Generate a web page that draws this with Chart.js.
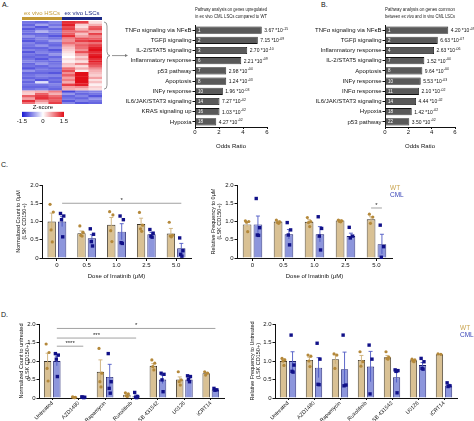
<!DOCTYPE html>
<html>
<head>
<meta charset="utf-8">
<script src="https://cdn.jsdelivr.net/npm/chart.js@4.4.1/dist/chart.umd.min.js"></script>
<style>
body { margin: 0; background: #fff; width: 474px; height: 421px; position: relative; overflow: hidden; font-family: "Liberation Sans", Arial, sans-serif; }
canvas { position: absolute; }
.lbl { position: absolute; font-size: 7px; color: #111; }
</style>
</head>
<body>
<div class="lbl" style="left:2px;top:1px">A.</div>
<div class="lbl" style="left:321px;top:1px">B.</div>
<div class="lbl" style="left:1px;top:161px">C.</div>
<div class="lbl" style="left:1px;top:311px">D.</div>

<canvas id="heat" width="130" height="125" style="left:0;top:0"></canvas>
<canvas id="zbar" width="62" height="24" style="left:12px;top:103px"></canvas>
<canvas id="pathA" width="215" height="150" style="left:100px;top:0"></canvas>
<canvas id="pathB" width="184" height="150" style="left:290px;top:0"></canvas>
<canvas id="cCount" width="200" height="105" style="left:0;top:175px"></canvas>
<canvas id="cCountPts" width="200" height="105" style="left:0;top:175px"></canvas>
<canvas id="cFreq" width="240" height="105" style="left:205px;top:175px"></canvas>
<canvas id="cFreqPts" width="240" height="105" style="left:205px;top:175px"></canvas>
<canvas id="dCount" width="235" height="106" style="left:0;top:315px"></canvas>
<canvas id="dCountPts" width="235" height="106" style="left:0;top:315px"></canvas>
<canvas id="dFreq" width="234" height="106" style="left:240px;top:315px"></canvas>
<canvas id="dFreqPts" width="234" height="106" style="left:240px;top:315px"></canvas>

<script>
// ---- heatmap z-scores, one array per sample (rows top -> bottom)
const heatSamples = ['HSC1', 'HSC2', 'HSC3', 'LSC1', 'LSC2', 'LSC3'];
const zHSC1 = [-0.9,-1.0,-0.8,-1.1,-0.9,-1.0,-0.7,-1.0,-1.1,-0.8,-0.9,-1.0,-0.8,-1.1,-0.9,-1.0,-0.9,-0.8,-1.0,-0.9,-1.1,-0.7,-1.0,-0.9,-1.0,-0.8,-1.0,-0.9,-1.0,-0.9, 0.4,0.3,1.0,0.6,1.3,0.9];
const zHSC2 = [-1.0,-0.6,-1.1,-0.9,-0.5,-1.0,-0.9,-0.8,-0.9,-1.0,-0.7,-1.0,-0.9,-0.8,-1.0,-0.9,-1.1,-0.9,-0.7,-1.0,-0.9,-0.9,-1.0,-0.8,-0.9,-1.1,-0.2,-0.9,-1.0,-0.8, 0.5,1.0,1.2,1.3,0.7,0.4];
const zHSC3 = [-0.8,-0.9,-0.7,-1.0,-0.8,-0.9,-1.1,-0.9,-0.6,-0.9,-1.0,-0.8,-1.1,-0.9,-0.7,-1.0,-0.8,-1.0,-0.9,-0.8,-1.0,-0.9,-1.1,-0.8,-1.0,-0.9,-1.0,-0.8,-0.9,-1.0, 0.8,0.5,0.9,1.1,1.0,1.2];
const zLSC1 = [1.3,1.4,1.1,1.2,0.9,1.0,1.3,0.8,0.7,0.9,0.6,0.4,0.3,0.2,0.1,0.0,0.2,0.1,0.4,0.3,0.9,1.1,0.7,1.0,0.6,0.8,0.5,1.2,0.6,0.5, -1.2,-0.7,-1.0,-0.9,-1.1,-0.8];
const zLSC2 = [1.2,0.3,0.2,0.5,0.9,0.4,0.6,1.1,1.2,0.8,1.0,0.9,0.7,1.1,0.6,0.3,0.5,0.2,0.8,0.2,0.5,0.1,1.5,1.5,1.5,1.5,1.5,1.4,0.7,0.4, -0.9,-1.0,-0.8,-1.0,-0.8,-1.1];
const zLSC3 = [0.2,0.5,1.0,1.1,0.6,1.2,0.8,1.0,1.3,0.9,1.2,1.4,1.5,1.3,1.4,1.5,1.3,1.4,1.2,1.0,0.7,0.5,0.4,0.3,0.6,0.2,0.4,0.1,0.3,0.2, -0.8,-0.9,-1.1,-0.7,-0.9,-1.0];
const upRows = 30;
const zTicks = [-1.5, 0, 1.5];

// ---- pathway enrichment
const pathA = ['TNFα signaling via NFκB', 'TGFβ signaling', 'IL-2/STAT5 signaling', 'Inflammatory response', 'p53 pathway', 'Apoptosis', 'INFγ response', 'IL6/JAK/STAT3 signaling', 'KRAS signaling up', 'Hypoxia'];
const oddsA = [5.56, 5.23, 4.35, 3.85, 2.6, 2.6, 2.32, 2.04, 2.04, 1.77];
const rankA = [1, 2, 3, 6, 7, 8, 10, 14, 16, 18];
const pvalA = ['3.67', '7.15', '2.70', '2.21', '2.98', '1.24', '1.96', '7.27', '1.03', '4.27'];
const pexpA = ['-15', '-09', '-10', '-09', '-04', '-03', '-03', '-02', '-02', '-02'];

const pathB = ['TNFα signaling via NFκB', 'TGFβ signaling', 'Inflammatory response', 'IL-2/STAT5 signaling', 'Apoptosis', 'INFγ response', 'INFα response', 'IL6/JAK/STAT3 signaling', 'Hypoxia', 'p53 pathway'];
const oddsB = [5.42, 4.52, 4.2, 3.37, 3.2, 3.06, 2.91, 2.66, 2.29, 2.08];
const rankB = [1, 2, 4, 7, 8, 10, 11, 14, 18, 22];
const pvalB = ['4.20', '6.63', '2.63', '1.52', '9.64', '5.53', '2.10', '4.44', '1.42', '3.50'];
const pexpB = ['-09', '-07', '-06', '-04', '-04', '-03', '-02', '-02', '-02', '-02'];

// ---- C: imatinib dose
const doseCats = ['0', '0.5', '1.0', '2.5', '5.0'];
const cCountWT = [1.0, 0.68, 0.91, 0.93, 0.67];
const cCountCML = [1.0, 0.54, 0.72, 0.65, 0.27];
const cCountWTSem = [0.23, 0.06, 0.2, 0.16, 0.14];
const cCountCMLSem = [0.14, 0.1, 0.22, 0.05, 0.13];
const cCountWTPts = [[1.47, 1.26, 0.77, 0.44], [0.88, 0.7, 0.62, 0.6], [1.27, 1.18, 0.75, 0.45], [1.25, 0.9, 0.8, 0.73], [0.98, 0.62, 0.6, 0.58]];
const cCountCMLPts = [[1.22, 1.15, 1.05, 0.58], [0.8, 0.65, 0.45, 0.33], [1.15, 1.05, 0.42, 0.4], [0.78, 0.68, 0.6, 0.57], [0.55, 0.2, 0.1, 0.05]];

const cFreqWT = [0.92, 1.0, 0.99, 1.03, 1.06];
const cFreqCML = [0.92, 0.65, 0.65, 0.6, 0.38];
const cFreqWTSem = [0.06, 0.02, 0.06, 0.02, 0.07];
const cFreqCMLSem = [0.23, 0.13, 0.21, 0.08, 0.27];
const cFreqWTPts = [[1.02, 1.0, 0.98, 0.72], [1.04, 0.99, 0.97, 0.95], [1.11, 1.0, 0.97, 0.86], [1.04, 1.02, 1.0, 0.99], [1.2, 1.12, 0.95]];
const cFreqCMLPts = [[1.63, 0.83, 0.63, 0.62], [0.97, 0.77, 0.63, 0.36], [1.13, 0.81, 0.6, 0.22], [0.84, 0.6, 0.55], [0.9, 0.31, 0.02]];

// ---- D: inhibitors
const drugCats = ['Untreated', 'AZD1480', 'Rapamycin', 'Ruxolitinib', 'SB 431542', 'U0126', 'iCRT14'];
const dCountWT = [1.0, 0.02, 0.71, 0.09, 0.87, 0.5, 0.67];
const dCountCML = [1.0, 0.02, 0.57, 0.05, 0.5, 0.5, 0.23];
const dCountWTSem = [0.21, 0.01, 0.32, 0.02, 0.06, 0.07, 0.02];
const dCountCMLSem = [0.13, 0.01, 0.34, 0.03, 0.11, 0.04, 0.02];
const dCountWTPts = [[1.46, 1.23, 0.8, 0.46], [0.03, 0.02, 0.02, 0.01], [1.34, 0.67, 0.44, 0.3], [0.14, 0.11, 0.06, 0.04], [1.03, 0.94, 0.85, 0.76], [0.71, 0.49, 0.44, 0.35], [0.71, 0.67, 0.62]];
const dCountCMLPts = [[1.2, 1.16, 1.05, 0.58], [0.03, 0.02, 0.02, 0.01], [1.2, 0.44, 0.26, 0.13], [0.15, 0.04, 0.02, 0.01], [0.67, 0.64, 0.49, 0.17], [0.6, 0.58, 0.5, 0.44], [0.26, 0.22, 0.21]];

const dFreqWT = [1.0, 1.03, 1.05, 1.03, 1.1, 1.02, 1.18];
const dFreqCML = [1.0, 0.82, 0.78, 0.85, 0.56, 0.89, 0.34];
const dFreqWTSem = [0.06, 0.07, 0.13, 0.12, 0.05, 0.02, 0.01];
const dFreqCMLSem = [0.25, 0.27, 0.46, 0.41, 0.14, 0.07, 0.03];
const dFreqWTPts = [[1.07, 1.03, 1.0, 0.88], [1.16, 1.13, 1.0, 0.85], [1.19, 1.16, 0.8], [1.25, 0.98, 0.86], [1.25, 1.1, 1.07, 1.05], [1.05, 1.03, 1.0, 0.98], [1.19, 1.18]];
const dFreqCMLPts = [[1.7, 0.89, 0.72, 0.7], [1.48, 1.05, 0.37, 0.36], [1.7, 0.35, 0.33], [1.43, 1.05, 0.11], [0.76, 0.74, 0.72, 0.14], [1.07, 0.98, 0.8, 0.78], [0.41, 0.33, 0.31]];

const FONT = '"Liberation Sans", Arial, sans-serif';
Chart.defaults.font.family = FONT;
Chart.defaults.font.size = 6;
Chart.defaults.color = '#1a1a1a';
Chart.defaults.animation = false;
Chart.defaults.responsive = false;
Chart.defaults.plugins.legend.display = false;
Chart.defaults.plugins.tooltip.enabled = false;

const WT_FILL = '#d9c194', WT_EDGE = '#3b3326', WT_DOT = '#b4883a', WT_ERR = '#cdb078';
const CML_FILL = '#8d96dc', CML_EDGE = '#1d1f6e', CML_DOT = '#101088', CML_ERR = '#4d58c4';

function zColor(z) {
    let t = Math.max(-1, Math.min(1, z / 1.5));
    if (t < 0) {
        t = -t;
        return `rgb(${Math.round(255 - 230 * t)},${Math.round(255 - 230 * t)},${Math.round(255 - 45 * t)})`;
    }
    return `rgb(${Math.round(255 - 30 * t)},${Math.round(255 - 240 * t)},${Math.round(255 - 230 * t)})`;
}

// ---------- heatmap (stacked bars, one dataset per gene row)
const zCols = [zHSC1, zHSC2, zHSC3, zLSC1, zLSC2, zLSC3];
const nRows = zHSC1.length;
const heatDatasets = [];
for (let r = 0; r < nRows; r++) {
    const colors = zCols.map(col => zColor(col[r]));
    heatDatasets.push({
        data: zCols.map(() => 1),
        backgroundColor: colors,
        borderColor: colors,
        borderWidth: 0.3,
        barPercentage: 1,
        categoryPercentage: 1
    });
}

const heatDecor = {
    id: 'heatDecor',
    afterDraw(chart) {
        const ctx = chart.ctx, a = chart.chartArea;
        const mid = (a.left + a.right) / 2;
        ctx.save();
        ctx.fillStyle = '#c49a35';
        ctx.fillRect(a.left, a.top - 4, mid - a.left, 3);
        ctx.fillStyle = '#1c2a86';
        ctx.fillRect(mid, a.top - 4, a.right - mid, 3);
        ctx.font = '6px ' + FONT;
        ctx.textAlign = 'center';
        ctx.fillStyle = '#c49a35';
        ctx.fillText('ex vivo HSCs', (a.left + mid) / 2, a.top - 6);
        ctx.fillStyle = '#1c2a86';
        ctx.fillText('ex vivo LSCs', (mid + a.right) / 2, a.top - 6);

        // brace around the upregulated block and arrow to the pathway chart
        const ys = chart.scales.y;
        const y0 = ys.getPixelForValue(0) + 1, y1 = ys.getPixelForValue(upRows) - 1, ym = (y0 + y1) / 2;
        const x0 = a.right + 2, xb = a.right + 5, x1 = a.right + 8;
        ctx.strokeStyle = '#7a7a7a';
        ctx.lineWidth = 0.8;
        ctx.beginPath();
        ctx.moveTo(x0, y0);
        ctx.quadraticCurveTo(xb, y0, xb, y0 + 4);
        ctx.lineTo(xb, ym - 4);
        ctx.quadraticCurveTo(xb, ym, x1, ym);
        ctx.quadraticCurveTo(xb, ym, xb, ym + 4);
        ctx.lineTo(xb, y1 - 4);
        ctx.quadraticCurveTo(xb, y1, x0, y1);
        ctx.stroke();
        ctx.beginPath();
        ctx.moveTo(x1 + 2, ym);
        ctx.lineTo(x1 + 16, ym);
        ctx.stroke();
        ctx.fillStyle = '#7a7a7a';
        ctx.beginPath();
        ctx.moveTo(x1 + 18, ym);
        ctx.lineTo(x1 + 15, ym - 1.5);
        ctx.lineTo(x1 + 15, ym + 1.5);
        ctx.closePath();
        ctx.fill();
        ctx.restore();
    }
};

new Chart('heat', {
    type: 'bar',
    data: { labels: heatSamples, datasets: heatDatasets },
    options: {
        layout: { padding: { left: 22, top: 21, right: 28, bottom: 21 } },
        scales: {
            x: { stacked: true, display: false },
            y: { stacked: true, display: false, reverse: true, min: 0, max: nRows }
        }
    },
    plugins: [heatDecor]
});

// ---------- colour key, tick labels placed with the value scale
const zKeyTicks = {
    id: 'zKeyTicks',
    afterDraw(chart) {
        const ctx = chart.ctx, xs = chart.scales.x, a = chart.chartArea;
        ctx.save();
        ctx.font = '6px ' + FONT;
        ctx.fillStyle = '#111';
        ctx.textAlign = 'center';
        ctx.textBaseline = 'top';
        zTicks.forEach(v => ctx.fillText(v === 0 ? '0' : String(v), xs.getPixelForValue(v), a.bottom + 1.5));
        ctx.restore();
    }
};

new Chart('zbar', {
    type: 'bar',
    data: {
        labels: ['Z-score'],
        datasets: [{
            data: [[zTicks[0], zTicks[2]]],
            barPercentage: 1,
            categoryPercentage: 1,
            backgroundColor: c => {
                const a = c.chart.chartArea;
                if (!a) return '#fff';
                const g = c.chart.ctx.createLinearGradient(a.left, 0, a.right, 0);
                g.addColorStop(0, zColor(zTicks[0]));
                g.addColorStop(0.5, zColor(zTicks[1]));
                g.addColorStop(1, zColor(zTicks[2]));
                return g;
            }
        }]
    },
    options: {
        indexAxis: 'y',
        layout: { padding: { left: 10, right: 10, bottom: 10 } },
        plugins: {
            title: { display: true, text: 'Z-score', font: { size: 6, weight: 'normal' }, color: '#111', padding: { top: 1, bottom: 0.5 } }
        },
        scales: {
            x: { display: false, min: zTicks[0], max: zTicks[2] },
            y: { display: false }
        }
    },
    plugins: [zKeyTicks]
});

// ---------- pathway bar charts
function pathChart(id, labels, odds, ranks, pv, pe, title, padRight) {
    const marks = {
        id: 'marks',
        afterDatasetsDraw(chart) {
            const ctx = chart.ctx;
            ctx.save();
            ctx.textBaseline = 'middle';
            ctx.textAlign = 'left';
            chart.getDatasetMeta(0).data.forEach((bar, i) => {
                ctx.fillStyle = '#fff';
                ctx.font = '4.5px ' + FONT;
                ctx.fillText(String(ranks[i]), bar.base + 2.5, bar.y + 0.3);
                ctx.fillStyle = '#111';
                ctx.font = '5px ' + FONT;
                const s = pv[i] + ' *10';
                ctx.fillText(s, bar.x + 2.5, bar.y + 0.5);
                const w = ctx.measureText(s).width;
                ctx.font = '3.5px ' + FONT;
                ctx.fillText(pe[i], bar.x + 2.8 + w, bar.y - 1.5);
            });
            ctx.restore();
        }
    };
    return new Chart(id, {
        type: 'bar',
        data: {
            labels: labels,
            datasets: [{
                data: odds,
                backgroundColor: '#595959',
                borderColor: '#111',
                borderWidth: 0.8,
                barPercentage: 0.78,
                categoryPercentage: 0.9
            }]
        },
        options: {
            indexAxis: 'y',
            layout: { padding: { top: 2, right: padRight } },
            plugins: {
                title: {
                    display: true, text: title, fullSize: false,
                    font: { size: 6, weight: 'normal', lineHeight: 1.25 }, color: '#222',
                    padding: { top: 3.5, bottom: 4.5 }
                }
            },
            scales: {
                x: {
                    min: 0, max: 6,
                    ticks: { stepSize: 2, padding: 0, color: '#111' },
                    grid: { drawOnChartArea: false, tickLength: 2, color: '#111' },
                    border: { color: '#111' },
                    title: { display: true, text: 'Odds Ratio', color: '#111', padding: { top: 1, bottom: 0 } },
                    afterFit: s => { s.height = 23; }
                },
                y: {
                    grid: { drawOnChartArea: false, offset: false, tickLength: 2.5, color: '#111' },
                    border: { color: '#111' },
                    ticks: { padding: 1, color: '#111' },
                    afterFit: s => { s.width = 95; }
                }
            }
        },
        plugins: [marks]
    });
}

pathChart('pathA', pathA, oddsA, rankA, pvalA, pexpA,
    ['Pathway analysis on genes upregulated', 'in ex vivo CML LSCs compared to WT'], 48);
pathChart('pathB', pathB, oddsB, rankB, pvalB, pexpB,
    ['Pathway analysis on genes common', 'between ex vivo and in vivo CML LSCs'], 19);

// ---------- bar charts (WT vs CML) with an overlaid dot chart on the same plot area
function dotChart(id, o) {
    const n = o.cats.length;
    const jit = [-0.055, 0.055, -0.02, 0.02, 0];
    const side = 0.175;
    const pts = (groups, s) => groups.flatMap((g, i) => g.map((v, k) => ({ x: i + s * side + jit[k], y: v })));
    const pad = Object.assign({ left: 0, right: 0, top: 0, bottom: 0 }, o.pad);

    const deco = {
        id: 'deco',
        afterDatasetsDraw(chart) {
            // mean +/- SEM
            const ctx = chart.ctx, ys = chart.scales.y;
            ctx.save();
            [[0, o.wt, o.wtSem, WT_ERR], [1, o.cml, o.cmlSem, CML_ERR]].forEach(([di, m, sem, col]) => {
                chart.getDatasetMeta(di).data.forEach((bar, i) => {
                    const yt = ys.getPixelForValue(m[i] + sem[i]);
                    const yb = ys.getPixelForValue(Math.max(0, m[i] - sem[i]));
                    ctx.strokeStyle = col;
                    ctx.lineWidth = 0.9;
                    ctx.beginPath();
                    ctx.moveTo(bar.x, yb);
                    ctx.lineTo(bar.x, yt);
                    ctx.moveTo(bar.x - 2, yt);
                    ctx.lineTo(bar.x + 2, yt);
                    ctx.stroke();
                });
            });
            ctx.font = '6px ' + FONT;
            ctx.textAlign = 'center';
            (o.sig || []).forEach(s => {
                const xa = chart.getDatasetMeta(s.from[1]).data[s.from[0]].x;
                const xb = chart.getDatasetMeta(s.to[1]).data[s.to[0]].x;
                const y = ys.getPixelForValue(s.y);
                ctx.strokeStyle = '#8a8a8a';
                ctx.lineWidth = 0.8;
                ctx.beginPath();
                ctx.moveTo(xa, y);
                ctx.lineTo(xb, y);
                ctx.stroke();
                ctx.fillStyle = '#222';
                ctx.fillText(s.label, (xa + xb) / 2, y - 1);
            });
            if (o.legend) {
                ctx.textAlign = 'left';
                ctx.textBaseline = 'middle';
                ctx.font = '6.5px ' + FONT;
                ctx.fillStyle = '#c9a44e';
                ctx.fillText('WT', o.legend[0], o.legend[1]);
                ctx.fillStyle = '#3a46b8';
                ctx.fillText('CML', o.legend[0], o.legend[1] + 7);
            }
            ctx.restore();
        }
    };

    const xScale = {
        grid: { drawOnChartArea: false, offset: false, tickLength: o.rotate ? 2 : 3, color: '#111' },
        border: { color: '#111' },
        ticks: { padding: o.rotate ? 0 : 1, color: '#111', autoSkip: false },
        afterFit: s => { s.height = o.xHeight; }
    };
    if (o.rotate) {
        xScale.ticks.minRotation = 45;
        xScale.ticks.maxRotation = 45;
        xScale.ticks.font = { size: 5.4 };
    }
    if (o.xtitle) {
        xScale.title = { display: true, text: o.xtitle, color: '#111', padding: { top: 0, bottom: 0 } };
    }

    new Chart(id, {
        type: 'bar',
        data: {
            labels: o.cats,
            datasets: [
                { label: 'WT', data: o.wt, backgroundColor: WT_FILL, borderColor: WT_EDGE, borderWidth: 0.9 },
                { label: 'CML', data: o.cml, backgroundColor: CML_FILL, borderColor: CML_EDGE, borderWidth: 0.9 }
            ]
        },
        options: {
            layout: { padding: pad },
            datasets: { bar: { categoryPercentage: 0.7, barPercentage: 0.8 } },
            scales: {
                x: xScale,
                y: {
                    min: 0, max: 2,
                    ticks: { stepSize: 0.5, padding: 1, color: '#111', callback: v => v === 0 ? '0' : v.toFixed(1) },
                    grid: { drawOnChartArea: false, tickLength: 2.5, color: '#111' },
                    border: { color: '#111' },
                    title: { display: true, text: o.ytitle, color: '#111', font: { size: 5.5 }, padding: { top: o.yTitlePad, bottom: 0 } },
                    afterFit: s => { s.width = o.yWidth; }
                }
            }
        },
        plugins: [deco]
    });

    // individual replicates
    new Chart(id + 'Pts', {
        type: 'scatter',
        data: {
            datasets: [
                { data: pts(o.wtPts, -1), pointStyle: 'circle', pointRadius: 1.6, backgroundColor: WT_DOT, borderWidth: 0, clip: false },
                { data: pts(o.cmlPts, 1), pointStyle: 'rect', pointRadius: 2.4, backgroundColor: CML_DOT, borderWidth: 0, clip: false }
            ]
        },
        options: {
            layout: { padding: { left: pad.left + o.yWidth, right: pad.right, top: pad.top, bottom: pad.bottom + o.xHeight } },
            scales: {
                x: { type: 'linear', display: false, min: -0.5, max: n - 0.5 },
                y: { display: false, min: 0, max: 2 }
            }
        }
    });
}

dotChart('cCount', {
    cats: doseCats, wt: cCountWT, cml: cCountCML, wtSem: cCountWTSem, cmlSem: cCountCMLSem,
    wtPts: cCountWTPts, cmlPts: cCountCMLPts,
    ytitle: ['Normalized Count to 0μM', '(LSK CD150+)'], xtitle: 'Dose of Imatinib (μM)',
    yWidth: 42, yTitlePad: 14.7, xHeight: 22, pad: { top: 10, right: 9 },
    sig: [{ from: [0, 1], to: [4, 1], y: 1.5, label: '*' }]
});

dotChart('cFreq', {
    cats: doseCats, wt: cFreqWT, cml: cFreqCML, wtSem: cFreqWTSem, cmlSem: cFreqCMLSem,
    wtPts: cFreqWTPts, cmlPts: cFreqCMLPts,
    ytitle: ['Relative Frequency to 0μM', '(LSK CD150+)'], xtitle: 'Dose of Imatinib (μM)',
    yWidth: 32, yTitlePad: 4.7, xHeight: 22, pad: { top: 10, right: 53 },
    sig: [{ from: [4, 0], to: [4, 1], y: 1.37, label: '*' }],
    legend: [185, 13]
});

dotChart('dCount', {
    cats: drugCats, wt: dCountWT, cml: dCountCML, wtSem: dCountWTSem, cmlSem: dCountCMLSem,
    wtPts: dCountWTPts, cmlPts: dCountCMLPts,
    ytitle: ['Normalized Count to untreated', '(LSK CD150+)'], rotate: true,
    yWidth: 39, yTitlePad: 17.7, xHeight: 23, pad: { top: 9, right: 11 },
    sig: [
        { from: [0, 1], to: [1, 1], y: 1.4, label: '****' },
        { from: [0, 1], to: [3, 1], y: 1.62, label: '***' },
        { from: [0, 1], to: [6, 1], y: 1.88, label: '*' }
    ]
});

dotChart('dFreq', {
    cats: drugCats, wt: dFreqWT, cml: dFreqCML, wtSem: dFreqWTSem, cmlSem: dFreqCMLSem,
    wtPts: dFreqWTPts, cmlPts: dFreqCMLPts,
    ytitle: ['Relative Frequency to Untreated', '(LSK CD150+)'], rotate: true,
    yWidth: 35, yTitlePad: 8.7, xHeight: 23, pad: { top: 9, right: 17 },
    legend: [220, 13]
});
</script>
</body>
</html>
